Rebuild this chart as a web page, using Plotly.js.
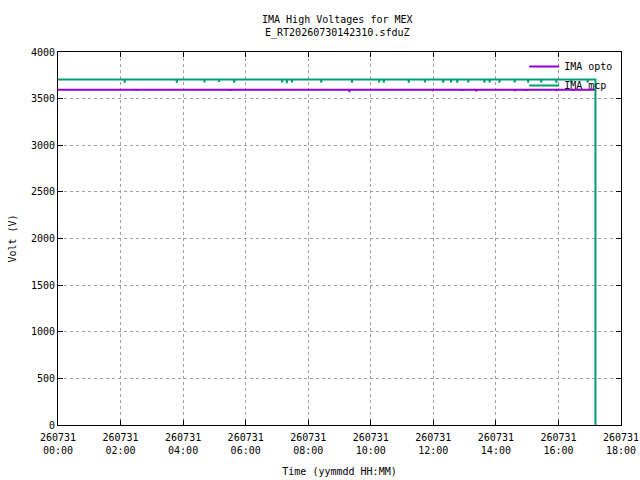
<!DOCTYPE html>
<html>
<head>
<meta charset="utf-8">
<script src="https://cdn.plot.ly/plotly-3.0.1.min.js"></script>
<style>
  html, body { margin: 0; padding: 0; background: #fff; }
  #hv { width: 640px; height: 480px; }
</style>
</head>
<body>
<div id="hv"></div>
<script>
// day of the run and the end of the recording (minutes after midnight)
var day = '2026-07-31';
var endMinute = 1031;

// steady levels (V)
var optoLevel = 3595;
var mcpLevel = 3705;

// short dips in the mcp voltage, minutes after midnight and the value reached
var mcpDipMin  = [128, 228, 281, 309, 338, 430, 439, 449, 505, 564, 616, 625, 673, 704, 739, 754, 766, 787, 818, 828, 847, 876, 902, 927, 956, 985, 1016];
var mcpDipVolt = [3670, 3670, 3675, 3680, 3670, 3675, 3665, 3675, 3675, 3670, 3675, 3670, 3670, 3675, 3670, 3675, 3670, 3675, 3670, 3675, 3670, 3675, 3670, 3675, 3670, 3675, 3670];

// short dips in the opto voltage
var optoDipMin  = [150, 330, 559, 719, 776, 802, 803, 877, 898, 956, 988];
var optoDipVolt = [3585, 3585, 3570, 3580, 3585, 3580, 3580, 3580, 3585, 3580, 3585];

function stamp(min) {
  var s = Math.round(min * 60);
  var h = Math.floor(s / 3600), m = Math.floor((s % 3600) / 60), sec = s % 60;
  function p(n) { return (n < 10 ? '0' : '') + n; }
  return day + ' ' + p(h) + ':' + p(m) + ':' + p(sec);
}

// the final drop to 0 is only visible on the mcp trace (it is drawn on top)
function series(level, dipMin, dipVolt, drop) {
  var x = [stamp(0)], y = [level];
  for (var i = 0; i < dipMin.length; i++) {
    x.push(stamp(dipMin[i] - 0.5), stamp(dipMin[i]), stamp(dipMin[i] + 0.5));
    y.push(level, dipVolt[i], level);
  }
  x.push(stamp(endMinute));
  y.push(level);
  if (drop) { x.push(stamp(endMinute)); y.push(0); }
  return {x: x, y: y};
}

var opto = series(optoLevel, optoDipMin, optoDipVolt, false);
var mcp = series(mcpLevel, mcpDipMin, mcpDipVolt, true);

var font = {family: 'DejaVu Sans Mono, monospace', size: 10, color: '#000'};

var trace1 = {
  x: opto.x, y: opto.y, name: 'IMA opto',
  type: 'scatter', mode: 'lines',
  line: {color: '#9400d3', width: 2}
};

var trace2 = {
  x: mcp.x, y: mcp.y, name: 'IMA mcp',
  type: 'scatter', mode: 'lines',
  line: {color: '#009e73', width: 2}
};

var layout = {
  width: 640, height: 480,
  margin: {l: 58, r: 19, t: 52, b: 55},
  paper_bgcolor: '#fff', plot_bgcolor: '#fff',
  font: font,
  title: {text: 'IMA High Voltages for MEX<br>E_RT20260730142310.sfduZ',
          x: 0.527, xanchor: 'center', y: 0.952, yanchor: 'top', font: font},
  showlegend: true,
  legend: {x: 0.995, xanchor: 'right', y: 1.0, yanchor: 'top',
           bgcolor: 'rgba(0,0,0,0)', font: font, tracegroupgap: 0},
  xaxis: {
    type: 'date',
    range: [day + ' 00:00', day + ' 18:00'],
    tick0: day + ' 00:00', dtick: 7200000,
    tickformat: '%y%m%d<br>%H:%M',
    ticks: 'inside', ticklen: 5, tickcolor: '#000', ticklabelstandoff: 3,
    showline: true, linecolor: '#000', linewidth: 1, mirror: 'ticks',
    showgrid: true, gridcolor: '#a0a0a0', griddash: '3px,3px', gridwidth: 1,
    zeroline: false,
    title: {text: 'Time (yymmdd HH:MM)', font: font, standoff: 12}
  },
  yaxis: {
    range: [0, 4000], dtick: 500,
    ticks: 'inside', ticklen: 5, tickcolor: '#000',
    showline: true, linecolor: '#000', linewidth: 1, mirror: 'ticks',
    showgrid: true, gridcolor: '#a0a0a0', griddash: '3px,3px', gridwidth: 1,
    zeroline: false,
    title: {text: 'Volt (V)', font: font, standoff: 12}
  }
};

Plotly.newPlot('hv', [trace1, trace2], layout, {displayModeBar: false, staticPlot: true});
</script>
</body>
</html>
